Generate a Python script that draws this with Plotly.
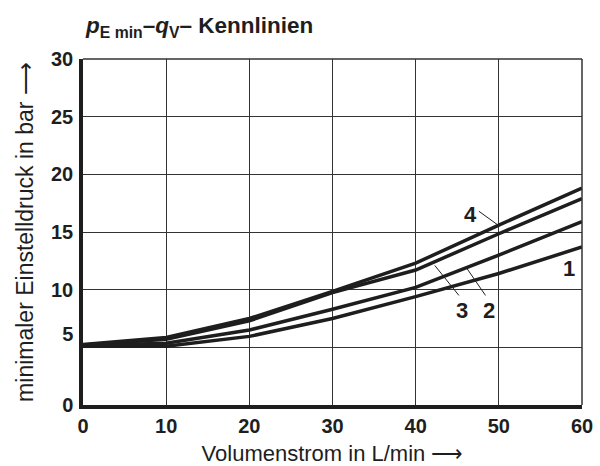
import plotly.graph_objects as go

# Data
flow = [0, 10, 20, 30, 40, 50, 60]
curve_1 = [5.1, 5.1, 5.95, 7.5, 9.4, 11.4, 13.7]
curve_2 = [5.15, 5.35, 6.5, 8.3, 10.2, 13.0, 15.9]
curve_3 = [5.2, 5.7, 7.3, 9.75, 11.7, 14.85, 17.9]
curve_4 = [5.25, 5.85, 7.5, 9.85, 12.3, 15.6, 18.8]
series = {"1": curve_1, "2": curve_2, "3": curve_3, "4": curve_4}

x_ticks = [0, 10, 20, 30, 40, 50, 60]
y_ticks = [0, 5, 10, 15, 20, 25, 30]
y_ticktext = ["<b>0</b>", "<b>5</b><br>&nbsp;", "<b>10</b>", "<b>15</b>", "<b>20</b>", "<b>25</b>", "<b>30</b>"]

# curve labels: label text, text position, leader start, leader end
label_names = ["4", "3", "2", "1"]
label_x = [46.6, 45.6, 48.8, 58.4]
label_y = [16.5, 8.2, 8.2, 11.8]
leader_x0 = [47.6, 45.2, 48.4, None]
leader_y0 = [16.8, 9.5, 9.5, None]
leader_x1 = [49.9, 42.3, 46.2, None]
leader_y1 = [15.6, 12.1, 11.8, None]

INK = "#1e1e1e"
TICKFONT = dict(family="Liberation Sans Narrow, Arial Narrow, Liberation Sans, Arial", size=20, color=INK)

fig = go.Figure()
for name, vals in series.items():
    fig.add_trace(go.Scatter(x=flow, y=vals, mode="lines", name=name,
                             line=dict(color=INK, width=3.5), showlegend=False,
                             hoverinfo="skip"))

for i, t in enumerate(label_names):
    fig.add_annotation(x=label_x[i], y=label_y[i], text="<b>" + t + "</b>", showarrow=False,
                       font=dict(family=TICKFONT["family"], size=22, color=INK))
    if leader_x0[i] is not None:
        fig.add_shape(type="line", x0=leader_x0[i], y0=leader_y0[i], x1=leader_x1[i], y1=leader_y1[i],
                      xref="x", yref="y", line=dict(color=INK, width=1))

# thin top and right border
fig.add_shape(type="line", xref="paper", yref="paper", x0=0, x1=1, y0=1, y1=1,
              line=dict(color="#333", width=1.5))
fig.add_shape(type="line", xref="paper", yref="paper", x0=1, x1=1, y0=0, y1=1,
              line=dict(color="#333", width=1.5))

fig.add_annotation(xref="paper", yref="paper", x=0.0, y=1.0, xanchor="left", yanchor="bottom",
                   yshift=16, xshift=0, showarrow=False,
                   text="<b><i>p</i><sub>E min</sub>–<i>q</i><sub>V</sub>– Kennlinien</b>",
                   font=dict(family="Liberation Sans, Arial", size=22.5, color=INK))

fig.update_layout(
    width=600, height=466,
    margin=dict(l=83, r=18, t=59, b=61),
    paper_bgcolor="white", plot_bgcolor="white",
    xaxis=dict(range=[0, 60], tickvals=x_ticks, ticktext=["<b>%d</b>" % v for v in x_ticks],
               automargin=False, ticklabeloverflow="allow",
               showgrid=True, gridcolor="#333", gridwidth=1, zeroline=False,
               showline=True, linecolor=INK, linewidth=3.5, ticks="", tickfont=TICKFONT,
               title=dict(text="Volumenstrom in L/min ⟶", standoff=12,
                          font=dict(family="Liberation Sans, Arial", size=22, color=INK))),
    yaxis=dict(range=[0, 30], tickvals=y_ticks, ticktext=y_ticktext,
               automargin=False,
               showgrid=True, gridcolor="#333", gridwidth=1, zeroline=False,
               showline=True, linecolor=INK, linewidth=3.5, ticks="", tickfont=TICKFONT,
               ticklabelstandoff=2,
               title=dict(text="minimaler Einstelldruck in bar ⟶", standoff=12,
                          font=dict(family="Liberation Sans, Arial", size=23, color=INK))),
)

# remove the default 8px page margin so the 600x466 figure fills the window exactly
fig.write_html("out.html", config={"displayModeBar": False},
               post_script="document.body.style.margin='0px';")
